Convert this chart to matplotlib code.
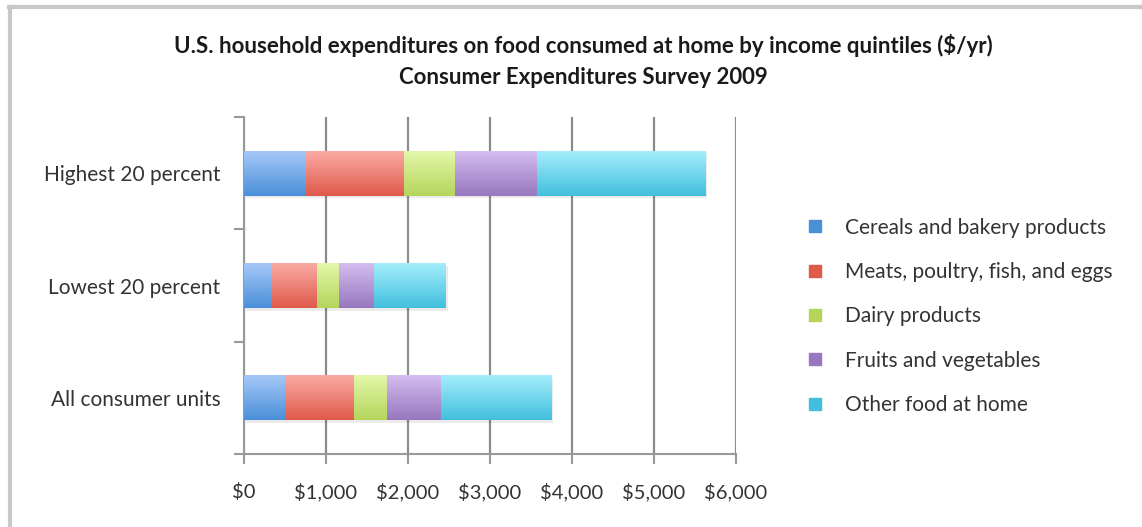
import matplotlib.pyplot as plt
import numpy as np
from matplotlib.lines import Line2D
from matplotlib.patches import Rectangle

plt.rcParams['font.family'] = ['Lato', 'DejaVu Sans']

groups = ['All consumer units', 'Lowest 20 percent', 'Highest 20 percent']
categories = ['Cereals and bakery products', 'Meats, poultry, fish, and eggs',
              'Dairy products', 'Fruits and vegetables', 'Other food at home']
cereals = [503, 325, 756]
meats = [841, 569, 1195]
dairy = [403, 268, 622]
fruits_veg = [658, 423, 1000]
other_food = [1342, 878, 2049]
series = [cereals, meats, dairy, fruits_veg, other_food]

# (top, bottom) colours for the vertical gradient on each segment
shades = [('#a6c8f7', '#4b8fd9'),
          ('#fbaaa4', '#de5a4a'),
          ('#e3f7aa', '#b4d55c'),
          ('#d4bdef', '#9777bf'),
          ('#a4eefc', '#42bfdd')]
xticks = np.arange(0, 7000, 1000)


def hex_rgb(h):
    return np.array([int(h[i:i + 2], 16) / 255 for i in (1, 3, 5)])


fig = plt.figure(figsize=(11.42, 5.27), dpi=100)
ax = fig.add_axes([0.2137, 0.1385, 0.4308, 0.6395])

y = np.arange(len(groups))
bar_h = 0.4
left = np.zeros(len(groups))
for vals, (c_top, c_bot), name in zip(series, shades, categories):
    t, b = hex_rgb(c_top), hex_rgb(c_bot)
    grad = np.linspace(0, 1, 64)[:, None, None]
    img = t * (1 - grad) + b * grad
    rects = ax.barh(y, vals, bar_h, left=left, color=c_bot, label=name, zorder=3)
    for r in rects:
        x0, y0, w, h = r.get_x(), r.get_y(), r.get_width(), r.get_height()
        # faint drop shadow under each segment
        ax.add_patch(Rectangle((x0 + 25, y0 - 0.025), w, h, color='#000000',
                               alpha=0.08, lw=0, zorder=2))
        im = ax.imshow(img, extent=(x0, x0 + w, y0, y0 + h), origin='upper',
                       aspect='auto', zorder=4, interpolation='bilinear')
        im.set_clip_path(r)
    left += np.array(vals)

ax.set_xlim(0, 6000)
ax.set_ylim(-0.5, 2.5)
ax.set_aspect('auto')
ax.set_xticks(xticks)
ax.set_xticklabels(['${:,}'.format(v) for v in xticks])
ax.set_yticks([-0.5, 0.5, 1.5, 2.5])
ax.set_yticklabels([])
ax.set_yticks(y, minor=True)
ax.set_yticklabels(groups, minor=True)
ax.tick_params(axis='y', which='minor', length=0, pad=17, labelsize=15,
               labelcolor='#333333')
ax.tick_params(axis='y', which='major', length=7, width=1.5, color='#999999')
ax.tick_params(axis='x', length=7, width=1.5, color='#999999', pad=14,
               labelsize=14.5, labelcolor='#333333')
ax.xaxis.grid(True, color='#8c8c8c', lw=1.6, zorder=0)
ax.set_axisbelow(True)
for side in ['top', 'right']:
    ax.spines[side].set_visible(False)
for side in ['left', 'bottom']:
    ax.spines[side].set_color('#999999')
    ax.spines[side].set_linewidth(1.5)

handles = [Line2D([], [], marker='s', ls='', markersize=9,
                  markerfacecolor=c[1], markeredgecolor=c[1]) for c in shades]
fig.legend(handles, categories, loc='upper left',
           bbox_to_anchor=(0.697, 0.603), frameon=False, fontsize=15,
           labelcolor='#333333', handlelength=1.0, handletextpad=0.95,
           labelspacing=1.17, borderaxespad=0)

fig.text(0.511, 0.914, 'U.S. household expenditures on food consumed at home by income quintiles ($/yr)',
         ha='center', va='center', fontsize=16, fontweight='bold', color='#1a1a1a')
fig.text(0.511, 0.852, 'Consumer Expenditures Survey 2009',
         ha='center', va='center', fontsize=16, fontweight='bold', color='#1a1a1a')

# chart frame (top and left edges)
fig.add_artist(Line2D([0.008, 1.0], [0.987, 0.987], transform=fig.transFigure,
                      color='#c8c8c8', lw=3))
fig.add_artist(Line2D([0.0085, 0.0085], [0.0, 0.987], transform=fig.transFigure,
                      color='#c8c8c8', lw=3))

fig.savefig('out.png', dpi=100)
